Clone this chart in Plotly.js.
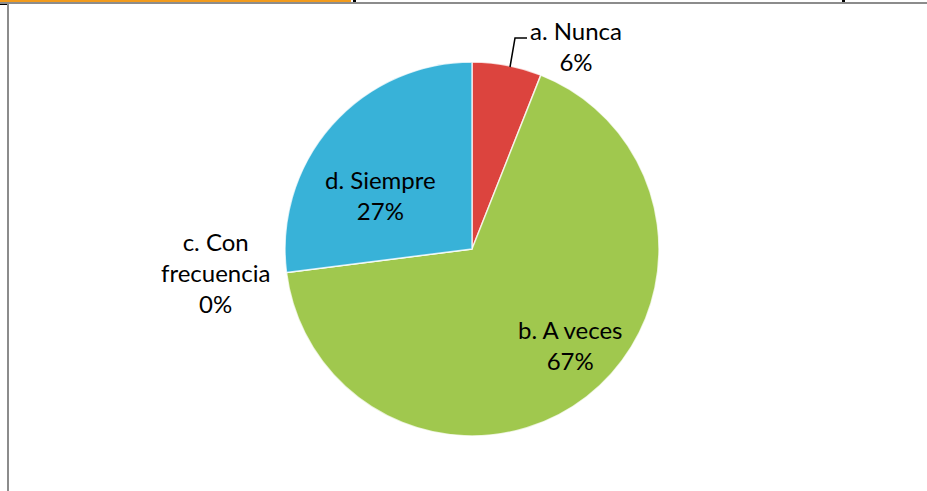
<!DOCTYPE html>
<html>
<head>
<meta charset="utf-8">
<script src="https://cdn.plot.ly/plotly-3.0.1.min.js"></script>
<style>html,body{margin:0;padding:0;background:#fff;}#chart{width:927px;height:491px;}</style>
</head>
<body>
<div id="chart"></div>
<script>
// Data
const categories = ["a. Nunca", "b. A veces", "c. Con frecuencia", "d. Siempre"];
const values = [6, 67, 0, 27];
const colors = ["#dc443e", "#a0c84e", "#a0c84e", "#38b2d8"];

// Label display (line breaks) and placement, pixel centres
const labelText = ["a. Nunca", "b. A veces", "c. Con<br>frecuencia", "d. Siempre"];
const labelPos = [[576, 46], [570, 345], [215, 272], [380, 195]];

const W = 927, H = 491;
const px = x => x / W;
const py = y => 1 - y / H;

const total = values.reduce((a, b) => a + b, 0);
const annotations = categories.map((c, i) => ({
  xref: "paper", yref: "paper",
  x: px(labelPos[i][0]), y: py(labelPos[i][1]),
  xanchor: "center", yanchor: "middle",
  text: labelText[i] + "<br>" + Math.round(values[i] / total * 100) + "%",
  showarrow: false,
  font: {family: "Lato, 'Open Sans', sans-serif", size: 24, color: "#000"}
}));

const cx = 472, cy = 249, r = 187;
const data = [{
  type: "pie",
  labels: categories,
  values: values,
  sort: false,
  direction: "clockwise",
  rotation: 0,
  textinfo: "none",
  hoverinfo: "label+percent",
  marker: {colors: colors, line: {color: "rgba(255,255,255,0.75)", width: 1.5}},
  domain: {x: [px(cx - r), px(cx + r)], y: [py(cy + r), py(cy - r)]},
  showlegend: false
}];

const shapes = [
  // frame
  {type: "rect", xref: "paper", yref: "paper", x0: 0, x1: px(351), y0: py(2), y1: 1, fillcolor: "#f29b1c", line: {width: 0}},
  {type: "rect", xref: "paper", yref: "paper", x0: px(353), x1: px(356), y0: py(2), y1: 1, fillcolor: "#000", line: {width: 0}},
  {type: "rect", xref: "paper", yref: "paper", x0: px(842), x1: px(845), y0: py(2), y1: 1, fillcolor: "#000", line: {width: 0}},
  {type: "rect", xref: "paper", yref: "paper", x0: 0, x1: px(7), y0: py(5), y1: py(3), fillcolor: "#000", line: {width: 0}},
  {type: "rect", xref: "paper", yref: "paper", x0: 0, x1: 1, y0: py(4), y1: py(2), fillcolor: "#8c8c8c", line: {width: 0}},
  {type: "rect", xref: "paper", yref: "paper", x0: px(7), x1: px(9), y0: 0, y1: py(2), fillcolor: "#8c8c8c", line: {width: 0}},
  // leader line for a. Nunca
  {type: "path", xref: "paper", yref: "paper",
   path: `M ${px(510)} ${py(67)} L ${px(515)} ${py(38)} L ${px(527)} ${py(38)}`,
   line: {color: "#000", width: 1.5}}
];

const layout = {
  width: W, height: H,
  margin: {l: 0, r: 0, t: 0, b: 0},
  paper_bgcolor: "#fff",
  plot_bgcolor: "#fff",
  annotations: annotations,
  shapes: shapes,
  showlegend: false
};

Plotly.newPlot("chart", data, layout, {displayModeBar: false, staticPlot: true});
</script>
</body>
</html>
